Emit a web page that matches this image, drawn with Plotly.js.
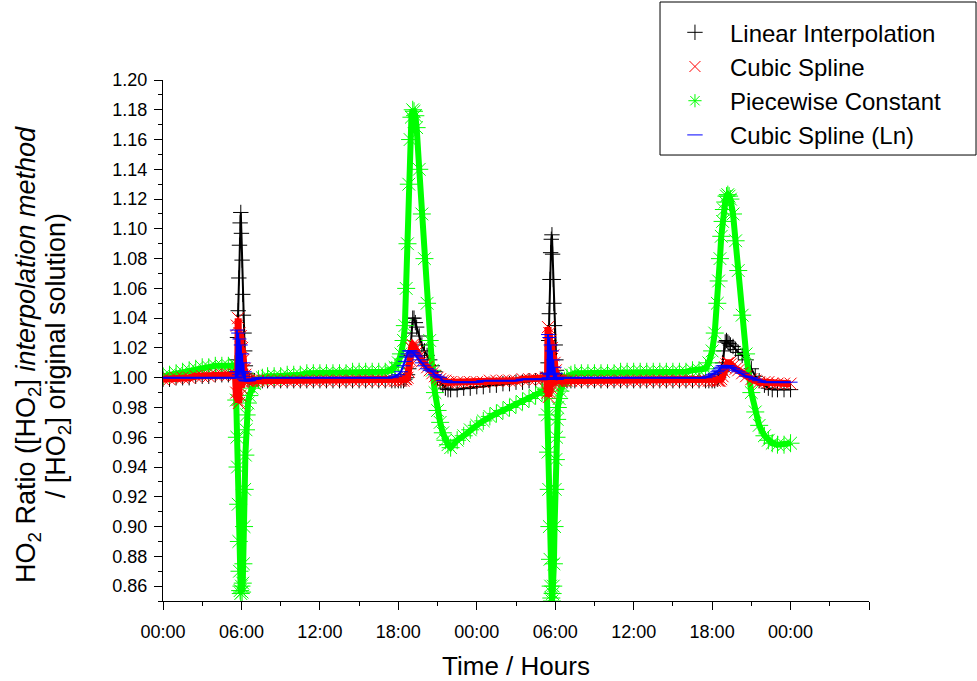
<!DOCTYPE html>
<html>
<head>
<meta charset="utf-8">
<script src="https://cdn.plot.ly/plotly-3.0.1.min.js"></script>
<style>html,body{margin:0;padding:0;background:#fff;}#chart{width:977px;height:681px;}</style>
</head>
<body>
<div id="chart"></div>
<script>
// Time in hours
const hours = [
  0,0.5,1,1.5,2,2.5,3,3.5,4,4.5,5,5.5,
  5.55,5.6,5.65,5.7,5.75,5.8,5.85,5.9,5.95,6,6.05,6.1,6.15,6.2,6.25,6.3,6.35,6.4,6.5,6.6,6.8,7,7.3,7.6,8,
  8.5,9,9.5,10,10.5,11,11.5,12,12.5,13,13.5,14,14.5,15,15.5,16,16.5,17,17.5,
  17.75,18,18.2,18.4,18.5,18.6,18.7,18.8,18.9,19,19.1,19.2,19.3,19.4,19.6,19.8,20,20.2,20.4,20.6,20.8,21,21.2,21.4,21.6,21.8,22,
  22.5,23,23.5,24,24.5,25,25.5,26,26.5,27,27.5,28,28.5,29,29.3,
  29.35,29.4,29.45,29.5,29.55,29.6,29.65,29.7,29.75,29.8,29.85,29.9,29.95,30,30.05,30.1,30.15,30.2,30.3,30.4,30.5,30.7,30.9,31.2,31.5,32,
  32.5,33,33.5,34,34.5,35,35.5,36,36.5,37,37.5,38,38.5,39,39.5,40,40.5,41,41.5,
  41.75,42,42.2,42.4,42.5,42.6,42.7,42.8,42.9,43,43.1,43.2,43.3,43.4,43.6,43.8,44,44.3,44.6,45,45.3,45.6,46,46.3,46.6,47,47.5,48
];

const linearInterp = [
  0.999,0.999,1,1,1,1.001,1.001,1.001,1.002,1.002,1.002,1.002,
  1.001,1.004,1.012,1.027,1.045,1.067,1.089,1.104,1.111,1.097,1.079,1.056,1.042,1.03,1.018,1.008,1.003,1.001,0.999,0.998,0.998,0.998,0.998,0.998,0.998,
  0.998,0.998,0.998,0.998,0.998,0.998,0.998,0.998,0.998,0.998,0.998,0.998,0.998,0.998,0.998,0.998,0.998,0.998,0.998,
  0.998,0.998,0.998,0.998,0.999,1,1.002,1.006,1.015,1.03,1.04,1.04,1.037,1.034,1.028,1.022,1.018,1.015,1.012,1.008,1.004,1,0.997,0.995,0.993,0.992,0.992,
  0.992,0.993,0.993,0.994,0.994,0.995,0.995,0.996,0.996,0.997,0.997,0.998,0.998,0.999,0.999,
  0.999,1.003,1.01,1.025,1.043,1.066,1.084,1.093,1.096,1.083,1.066,1.05,1.035,1.022,1.012,1.005,1.002,1.001,0.999,0.998,0.998,0.998,0.998,0.998,0.998,0.998,
  0.998,0.998,0.998,0.998,0.998,0.998,0.998,0.998,0.998,0.998,0.998,0.998,0.998,0.998,0.998,0.998,0.998,0.998,0.998,
  0.998,0.998,0.998,0.999,1,1.002,1.004,1.01,1.018,1.024,1.025,1.024,1.023,1.022,1.021,1.019,1.017,1.015,1.012,1.006,1.001,0.998,0.995,0.993,0.992,0.992,0.992,0.992
];

const cubicSpline = [
  0.999,0.999,1,1,1,1.001,1.001,1.001,1.002,1.002,1.002,1.002,
  1.002,0.99,1.035,0.985,1.04,0.983,1.03,0.988,1.028,0.993,1.02,0.997,1.012,1,1.006,1.002,0.999,0.998,0.998,0.998,0.998,0.998,0.998,0.998,0.998,
  0.998,0.998,0.998,0.998,0.998,0.998,0.998,0.998,0.998,0.998,0.998,0.998,0.998,0.998,0.998,0.998,0.998,0.998,0.998,
  0.998,0.998,0.998,0.998,0.999,0.999,1,1.004,1.012,1.02,1.022,1.021,1.019,1.017,1.014,1.011,1.009,1.007,1.005,1.003,1.001,1,0.999,0.998,0.998,0.997,0.997,
  0.997,0.997,0.997,0.997,0.997,0.998,0.998,0.998,0.998,0.998,0.999,0.999,0.999,0.999,1,
  1,0.99,1.034,0.987,1.03,0.99,1.025,0.993,1.02,0.995,1.015,0.997,1.01,0.999,1.005,0.998,0.998,0.998,0.998,0.998,0.998,0.998,0.998,0.998,0.998,0.998,
  0.998,0.998,0.998,0.998,0.998,0.998,0.998,0.998,0.998,0.998,0.998,0.998,0.998,0.998,0.998,0.998,0.998,0.998,0.998,
  0.998,0.998,0.998,0.998,0.998,0.998,0.999,1.001,1.004,1.007,1.009,1.01,1.01,1.009,1.008,1.006,1.005,1.003,1.001,0.999,0.998,0.997,0.997,0.997,0.996,0.996,0.996,0.996
];

const piecewiseConst = [
  1.001,1.002,1.003,1.004,1.005,1.006,1.007,1.007,1.008,1.008,1.008,1.009,
  1.008,0.985,0.96,0.94,0.915,0.89,0.87,0.857,0.855,0.86,0.856,0.862,0.875,0.9,0.925,0.948,0.965,0.975,0.983,0.988,0.993,0.996,0.999,1,1.001,
  1.001,1.001,1.002,1.002,1.002,1.003,1.003,1.003,1.003,1.003,1.003,1.003,1.004,1.004,1.004,1.004,1.004,1.004,1.005,
  1.007,1.01,1.016,1.025,1.035,1.06,1.09,1.13,1.16,1.175,1.18,1.179,1.176,1.168,1.14,1.11,1.08,1.05,1.025,1.005,0.99,0.978,0.97,0.963,0.958,0.955,0.953,
  0.958,0.961,0.965,0.968,0.971,0.974,0.976,0.978,0.98,0.982,0.984,0.986,0.988,0.99,0.992,
  0.993,0.975,0.95,0.925,0.9,0.878,0.86,0.852,0.85,0.855,0.86,0.875,0.9,0.925,0.945,0.96,0.972,0.98,0.986,0.991,0.995,0.998,1,1.002,1.003,1.003,
  1.003,1.003,1.003,1.003,1.003,1.004,1.004,1.004,1.004,1.004,1.004,1.004,1.004,1.004,1.004,1.004,1.005,1.005,1.006,
  1.01,1.018,1.03,1.05,1.065,1.08,1.095,1.105,1.113,1.118,1.122,1.123,1.122,1.12,1.11,1.092,1.072,1.042,1.016,0.99,0.977,0.968,0.961,0.958,0.956,0.955,0.955,0.956
];

const cubicSplineLn = [
  1,1,1,1,1,1,1,1,1,1,1,1,
  1,1.004,1.032,1,1.03,1.002,1.026,1.004,1.022,1.003,1.016,1.001,1.01,0.999,1.004,0.998,0.998,0.998,0.998,0.998,0.999,0.999,1,1,1,
  1,1,1,1,1,1,1,1,1,1,1,1,1,1,1,1,1,1,1,
  1.001,1.002,1.004,1.008,1.011,1.014,1.016,1.018,1.018,1.018,1.017,1.016,1.015,1.014,1.012,1.01,1.008,1.006,1.005,1.004,1.002,1.001,1,0.998,0.998,0.997,0.997,
  0.997,0.997,0.997,0.997,0.998,0.998,0.998,0.998,0.998,0.998,0.999,0.999,0.999,0.999,0.999,
  0.999,1.003,1.029,1,1.027,1.002,1.022,1.003,1.018,1.002,1.012,1,1.007,0.999,1.003,0.999,0.999,1,1,1,1,1,1,1,1,1,
  1,1,1,1,1,1,1,1,1,1,1,1,1,1,1,1,1,1,1,
  1.001,1.002,1.003,1.004,1.005,1.006,1.007,1.008,1.008,1.008,1.008,1.008,1.007,1.007,1.006,1.005,1.004,1.003,1.001,1,0.999,0.998,0.997,0.997,0.997,0.997,0.997,0.997
];

const seriesNames = ['Linear Interpolation', 'Cubic Spline', 'Piecewise Constant', 'Cubic Spline (Ln)'];
const tickHours = [0, 6, 12, 18, 24, 30, 36, 42, 48, 54];
const tickLabels = ['00:00', '06:00', '12:00', '18:00', '00:00', '06:00', '12:00', '18:00', '00:00', ''];

const styles = {
  'Linear Interpolation': {color: '#000000', symbol: 'cross-thin-open', size: 11, lw: 2},
  'Cubic Spline': {color: '#ff0000', symbol: 'x-thin-open', size: 12, lw: 7},
  'Piecewise Constant': {color: '#00ff00', symbol: 'asterisk-open', size: 15, lw: 6},
  'Cubic Spline (Ln)': {color: '#0000ff', symbol: 'line-ew-open', size: 10, lw: 2}
};
const values = {
  'Linear Interpolation': linearInterp,
  'Cubic Spline': cubicSpline,
  'Piecewise Constant': piecewiseConst,
  'Cubic Spline (Ln)': cubicSplineLn
};

function mk(name, legendSize) {
  const s = styles[name];
  return {color: s.color, symbol: s.symbol, size: legendSize || s.size, line: {color: s.color, width: 1}};
}

const drawOrder = ['Linear Interpolation', 'Piecewise Constant', 'Cubic Spline', 'Cubic Spline (Ln)'];
const traces = [];
drawOrder.forEach(function (name) {
  traces.push({
    x: hours, y: values[name], type: 'scatter', mode: 'lines+markers',
    name: name, showlegend: false, hoverinfo: 'skip',
    line: {color: styles[name].color, width: styles[name].lw},
    marker: mk(name)
  });
});
seriesNames.forEach(function (name) {
  traces.push({
    x: [null], y: [null], type: 'scatter', mode: 'markers', name: name,
    showlegend: true, marker: mk(name, 11)
  });
});

const layout = {
  width: 977, height: 681,
  margin: {l: 163, r: 108, t: 80, b: 80, autoexpand: false},
  paper_bgcolor: '#ffffff', plot_bgcolor: '#ffffff',
  font: {family: 'Liberation Sans, Arial, sans-serif', color: '#000000'},
  showlegend: true,
  legend: {
    xref: 'container', yref: 'container',
    x: 0.6755, y: 0.985, xanchor: 'left', yanchor: 'top',
    borderwidth: 0, bgcolor: 'rgba(0,0,0,0)',
    font: {size: 24, color: '#000000'}, itemwidth: 60, traceorder: 'normal'
  },
  shapes: [{
    type: 'rect', xref: 'paper', yref: 'paper',
    x0: 0.704, x1: 1.1516, y0: 0.856, y1: 1.1497,
    line: {color: '#000000', width: 1}, fillcolor: 'rgba(0,0,0,0)', layer: 'below'
  }],
  xaxis: {
    range: [0, 54], tickmode: 'array', tickvals: tickHours, ticktext: tickLabels,
    ticks: 'outside', ticklen: 8, tickwidth: 1, tickcolor: '#000000',
    showline: true, linecolor: '#000000', linewidth: 1, ticklabelstandoff: 6,
    showgrid: false, zeroline: false, tickfont: {size: 18},
    minor: {tick0: 0, dtick: 3, ticks: 'outside', ticklen: 4, tickcolor: '#000000', showgrid: false},
    title: {text: 'Time / Hours', font: {size: 26}, standoff: 17}
  },
  yaxis: {
    range: [0.85, 1.2], tick0: 0, dtick: 0.02, tickformat: '.2f',
    ticks: 'outside', ticklen: 8, tickwidth: 1, tickcolor: '#000000',
    showline: true, linecolor: '#000000', linewidth: 1, ticklabelstandoff: 3,
    showgrid: false, zeroline: false, tickfont: {size: 18},
    minor: {tick0: 0, dtick: 0.01, ticks: 'outside', ticklen: 4, tickcolor: '#000000', showgrid: false}
  },
  annotations: [{
    xref: 'paper', yref: 'paper', x: -0.1912, y: 0.472,
    xanchor: 'center', yanchor: 'middle', textangle: -90, showarrow: false,
    font: {size: 27, color: '#000000'},
    text: 'HO<sub>2</sub> Ratio ([HO<sub>2</sub>] <i>interpolation method</i>'
  }, {
    xref: 'paper', yref: 'paper', x: -0.1487, y: 0.470,
    xanchor: 'center', yanchor: 'middle', textangle: -90, showarrow: false,
    font: {size: 27, color: '#000000'},
    text: '/ [HO<sub>2</sub>] original solution)'
  }]
};

Plotly.newPlot('chart', traces, layout, {displayModeBar: false, staticPlot: true});
</script>
</body>
</html>
